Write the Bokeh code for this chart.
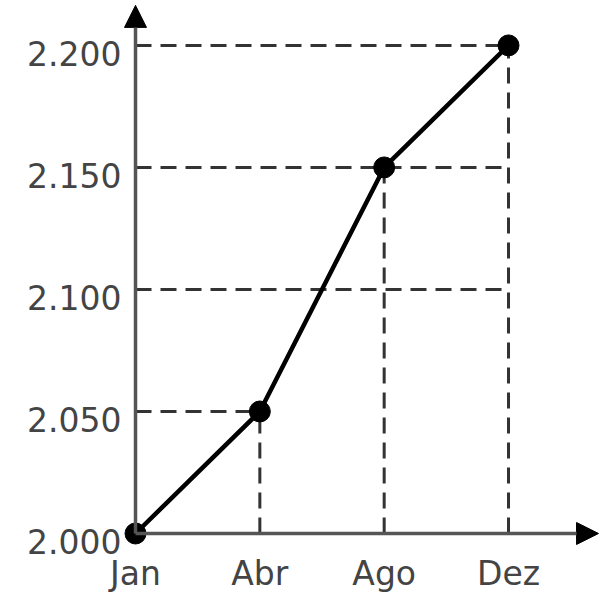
from bokeh.plotting import figure
from bokeh.models import Arrow, NormalHead, Range1d
from bokeh.core.properties import value
from bokeh.embed import file_html
from bokeh.resources import INLINE

# data
months = ["Jan", "Abr", "Ago", "Dez"]
values = [2000, 2050, 2150, 2200]
y_ticks = [2000, 2050, 2100, 2150, 2200]
y_tick_labels = ["2.000", "2.050", "2.100", "2.150", "2.200"]
guide_levels = [2050, 2100, 2150, 2200]
guide_end_month = ["Abr", "Dez", "Dez", "Dez"]

xs = list(range(len(months)))
idx = {m: i for i, m in enumerate(months)}

p = figure(width=604, height=592, output_backend="svg", toolbar_location=None,
           x_range=Range1d(-1.0858, 3.772), y_range=Range1d(1975.82, 2218.4),
           min_border_left=0, min_border_right=0, min_border_top=0, min_border_bottom=0)
p.outline_line_color = None
p.axis.visible = False
p.xgrid.visible = False
p.ygrid.visible = False
p.background_fill_color = "white"
p.border_fill_color = "white"

# dashed horizontal guides
p.segment(x0=[0] * len(guide_levels), y0=guide_levels,
          x1=[idx[m] for m in guide_end_month], y1=guide_levels,
          line_color="#333333", line_width=3, line_dash="16 9")
# dashed vertical guides
p.segment(x0=xs[1:], y0=[values[0]] * (len(xs) - 1), x1=xs[1:], y1=values[1:],
          line_color="#333333", line_width=3, line_dash="16 9")

# axes with arrows
p.add_layout(Arrow(x_start=0, y_start=2000, x_end=3.724, y_end=2000,
                   line_color="#555555", line_width=3.5,
                   end=NormalHead(size=22, fill_color="black", line_color="black")))
p.add_layout(Arrow(x_start=0, y_start=2000, x_end=0, y_end=2216.4,
                   line_color="#555555", line_width=3.5,
                   end=NormalHead(size=22, fill_color="black", line_color="black")))

# tick labels
p.text(x=[0] * len(y_ticks), y=y_ticks, text=y_tick_labels,
       text_font=value("DejaVu Sans"), text_font_size="33px", text_color="#444444",
       text_align="right", text_baseline="middle", x_offset=-14, y_offset=8)
p.text(x=xs, y=[values[0]] * len(xs), text=months,
       text_font=value("DejaVu Sans"), text_font_size="33px", text_color="#444444",
       text_align="center", text_baseline="middle", y_offset=40)

# series
p.line(xs, values, line_color="black", line_width=4.5)
p.scatter(xs, values, size=21, fill_color="black", line_color="black")

open("out.html", "w").write(file_html(p, INLINE))
